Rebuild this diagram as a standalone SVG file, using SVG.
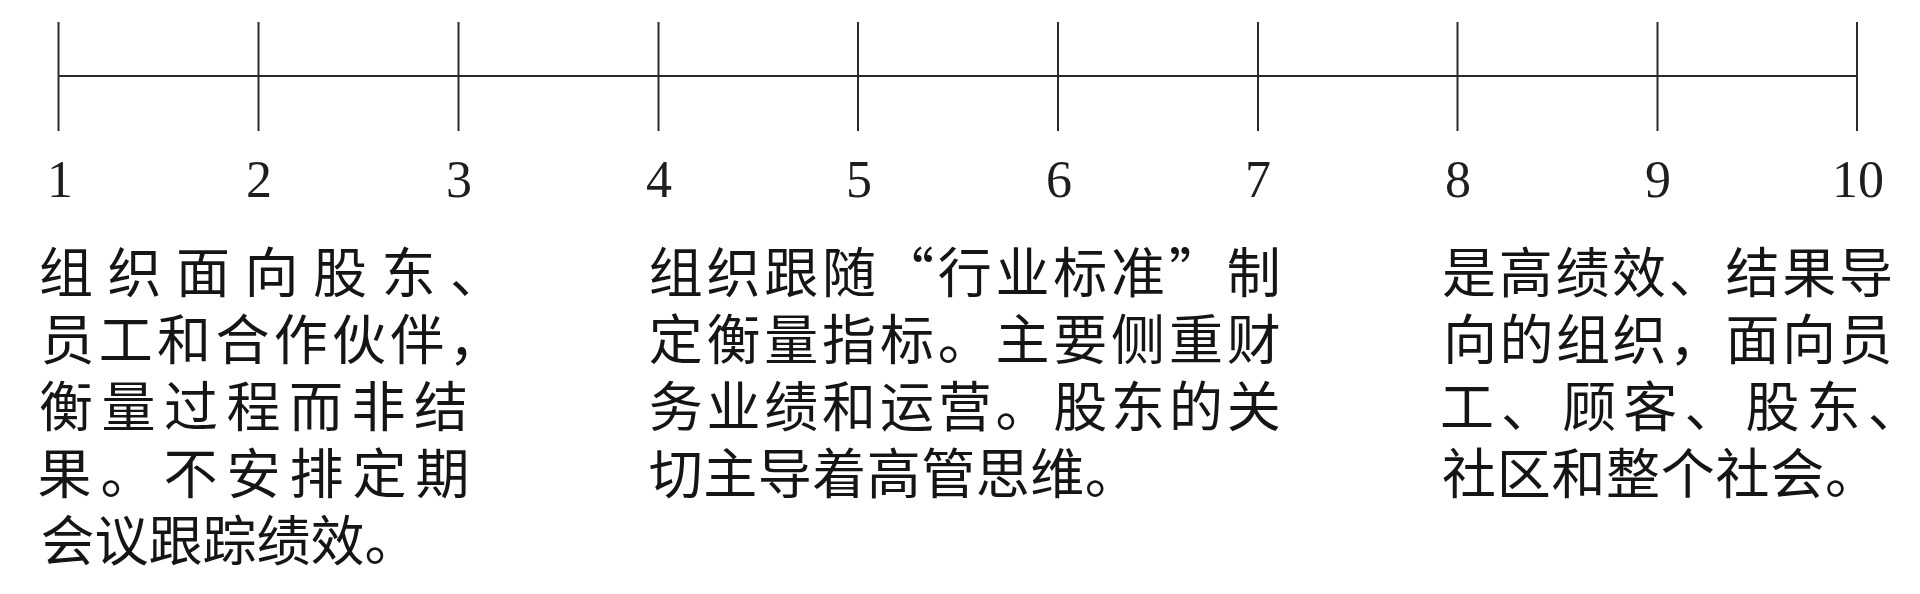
<svg xmlns="http://www.w3.org/2000/svg" width="1920" height="594" viewBox="0 0 1920 594">
<style>
.axis{stroke:#2a2a2a;stroke-width:2;fill:none}
.num{font-family:"Liberation Serif","Times New Roman",serif;font-size:52px;fill:#1e1e1e;text-anchor:middle}
.txt{font-family:"Noto Sans CJK SC","Noto Sans",sans-serif;font-size:54px;fill:#151515}
</style>
<rect width="1920" height="594" fill="#ffffff"/>
<g id="connectors">
<line class="axis" x1="58.5" y1="76" x2="1857" y2="76"/>
</g>
<g id="ticks">
<line class="axis" x1="58.5" y1="22" x2="58.5" y2="131"/>
<line class="axis" x1="258.5" y1="22" x2="258.5" y2="131"/>
<line class="axis" x1="458.5" y1="22" x2="458.5" y2="131"/>
<line class="axis" x1="658.5" y1="22" x2="658.5" y2="131"/>
<line class="axis" x1="858" y1="22" x2="858" y2="131"/>
<line class="axis" x1="1058" y1="22" x2="1058" y2="131"/>
<line class="axis" x1="1258" y1="22" x2="1258" y2="131"/>
<line class="axis" x1="1457.5" y1="22" x2="1457.5" y2="131"/>
<line class="axis" x1="1657.5" y1="22" x2="1657.5" y2="131"/>
<line class="axis" x1="1857" y1="22" x2="1857" y2="131"/>
</g>
<g id="numbers">
<text class="num" x="60" y="197">1</text>
<text class="num" x="259" y="197">2</text>
<text class="num" x="459" y="197">3</text>
<text class="num" x="659" y="197">4</text>
<text class="num" x="859" y="197">5</text>
<text class="num" x="1059" y="197">6</text>
<text class="num" x="1258" y="197">7</text>
<text class="num" x="1458" y="197">8</text>
<text class="num" x="1658" y="197">9</text>
<text class="num" x="1858" y="197">10</text>
</g>
<g id="block1">
<text class="txt"><tspan x="39 107.5 176 244.5 313 381.5 450" y="293">组织面向股东、</tspan><tspan x="40.5 98.8 157.1 215.4 273.7 332 390.3 448.6" y="360">员工和合作伙伴，</tspan><tspan x="39 101.5 164 226.5 289 351.5 414" y="427">衡量过程而非结</tspan><tspan x="37.5 100.5 163.5 226.5 289.5 352.5 415.5" y="494">果。不安排定期</tspan><tspan x="40.5 94.5 148.5 202.5 256.5 310.5 364.5" y="561">会议跟踪绩效。</tspan></text>
</g>
<g id="block2">
<text class="txt"><tspan x="648.7 706.5 764.3 822.1 879.9 937.7 995.5 1053.3 1111.1 1168.9 1226.7" y="293">组织跟随“行业标准”制</tspan><tspan x="648.7 706.5 764.3 822.1 879.9 937.7 995.5 1053.3 1111.1 1168.9 1226.7" y="360">定衡量指标。主要侧重财</tspan><tspan x="648.7 706.5 764.3 822.1 879.9 937.7 995.5 1053.3 1111.1 1168.9 1226.7" y="427">务业绩和运营。股东的关</tspan><tspan x="648.7 703.2 757.7 812.2 866.7 921.2 975.7 1030.2 1084.7" y="494">切主导着高管思维。</tspan></text>
</g>
<g id="block3">
<text class="txt"><tspan x="1442 1498.7 1555.4 1612.1 1668.8 1725.5 1782.2 1838.9" y="293">是高绩效、结果导</tspan><tspan x="1443 1499.5 1556 1612.5 1669 1725.5 1782 1838.5" y="360">向的组织，面向员</tspan><tspan x="1440 1501.1 1562.2 1623.3 1684.4 1745.5 1806.6 1867.7" y="427">工、顾客、股东、</tspan><tspan x="1442 1496.7 1551.4 1606.1 1660.8 1715.5 1770.2 1824.9" y="494">社区和整个社会。</tspan></text>
</g>
</svg>
